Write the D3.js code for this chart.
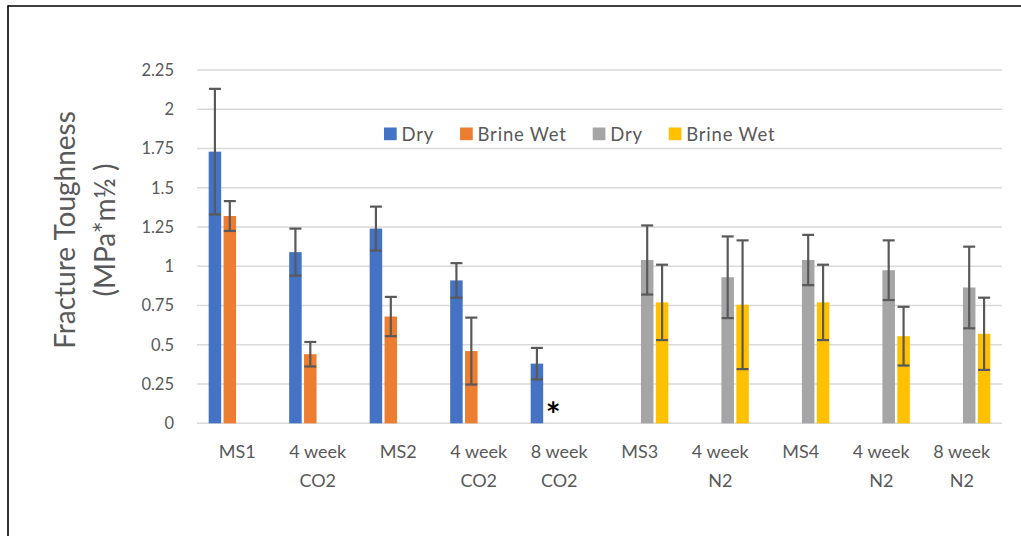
<!DOCTYPE html>
<html><head><meta charset="utf-8">
<script src="https://cdn.jsdelivr.net/npm/d3@7"></script>
<style>body{margin:0;background:#fff}svg{display:block}text{font-family:Lato,"Open Sans",sans-serif}</style>
</head><body><svg id="c" width="1021" height="536"></svg>
<script>
const categories = ["MS1","4 week|CO2","MS2","4 week|CO2","8 week|CO2","MS3","4 week|N2","MS4","4 week|N2","8 week|N2"];
const seriesNames = ["Dry","Brine Wet","Dry","Brine Wet"];
const seriesColors = ["#4472C4","#ED7D31","#A5A5A5","#FFC000"];
const dryCO2 =      [1.73, 1.09, 1.24, 0.91, 0.38, null, null, null, null, null];
const dryCO2Err =   [0.40, 0.15, 0.14, 0.11, 0.10, null, null, null, null, null];
const wetCO2 =      [1.32, 0.44, 0.68, 0.46, null, null, null, null, null, null];
const wetCO2Err =   [0.095,0.078,0.125,0.213,null, null, null, null, null, null];
const dryN2 =       [null, null, null, null, null, 1.04, 0.93, 1.04, 0.975, 0.865];
const dryN2Err =    [null, null, null, null, null, 0.22, 0.26, 0.16, 0.19, 0.26];
const wetN2 =       [null, null, null, null, null, 0.77, 0.755, 0.77, 0.555, 0.57];
const wetN2Err =    [null, null, null, null, null, 0.24, 0.41, 0.24, 0.187, 0.23];
const yTicks = [0,0.25,0.5,0.75,1,1.25,1.5,1.75,2,2.25];
const yTitle = ["Fracture Toughness","(MPa*m½ )"];
const noDataMark = {category: 4, series: 1, text: "*"};

const values = [dryCO2, wetCO2, dryN2, wetN2];
const errors = [dryCO2Err, wetCO2Err, dryN2Err, wetN2Err];

const svg = d3.select("#c");
const pLeft = 197, pRight = 1002, pTop = 70, pBottom = 423.3;
const y = d3.scaleLinear().domain([0,2.25]).range([pBottom, pTop]);
const x0 = d3.scaleBand().domain(d3.range(categories.length)).range([pLeft,pRight]).paddingInner(0.29).paddingOuter(0.145);
const x1 = d3.scaleBand().domain(d3.range(4)).range([0,x0.bandwidth()]).paddingInner(0.16);

// frame
svg.append("line").attr("x1",8).attr("x2",1021).attr("y1",6).attr("y2",6).attr("stroke","#000").attr("stroke-width",1.6);
svg.append("line").attr("x1",8).attr("x2",8).attr("y1",5.2).attr("y2",536).attr("stroke","#000").attr("stroke-width",1.6);

// gridlines
svg.append("g").selectAll("line").data(yTicks).join("line")
  .attr("x1",pLeft).attr("x2",pRight).attr("y1",d=>y(d)).attr("y2",d=>y(d))
  .attr("stroke","#d9d9d9").attr("stroke-width",1.5);

// y tick labels
svg.append("g").selectAll("text").data(yTicks).join("text")
  .attr("x",174).attr("y",d=>y(d)).attr("dy","0.36em").attr("text-anchor","end")
  .attr("fill","#595959").style("font-size","16.5px").text(d=>d);

// y title
yTitle.forEach((t,i)=>{
  svg.append("text").attr("transform",`translate(${75+i*40},230) rotate(-90)`)
    .attr("text-anchor","middle").attr("fill","#595959").style("font-size","28px").text(t);
});

// bars
const flat = [];
values.forEach((arr,s)=>arr.forEach((v,c)=>{ if(v!=null) flat.push({s,c,v,e:errors[s][c]}); }));
svg.append("g").selectAll("rect").data(flat).join("rect")
  .attr("x",d=>x0(d.c)+x1(d.s)).attr("width",x1.bandwidth())
  .attr("y",d=>y(d.v)).attr("height",d=>y(0)-y(d.v))
  .attr("fill",d=>seriesColors[d.s]);

// error bars
const eg = svg.append("g").attr("stroke","#595959").attr("stroke-width",2.2);
flat.forEach(d=>{
  const cx = x0(d.c)+x1(d.s)+x1.bandwidth()/2;
  eg.append("line").attr("x1",cx).attr("x2",cx).attr("y1",y(d.v+d.e)).attr("y2",y(d.v-d.e));
  [d.v+d.e, d.v-d.e].forEach(v=>eg.append("line").attr("x1",cx-6).attr("x2",cx+6).attr("y1",y(v)).attr("y2",y(v)));
});

// asterisk
svg.append("text").attr("x",x0(noDataMark.category)+x1(noDataMark.series)+x1.bandwidth()/2+1.5)
  .attr("y",427).attr("text-anchor","middle").attr("fill","#000")
  .style("font-size","35px").style("font-weight","bold").text(noDataMark.text);

// x labels
const xl = svg.append("g");
categories.forEach((c,i)=>{
  const cx = x0(i)+x0.bandwidth()/2;
  c.split("|").forEach((line,j)=>{
    xl.append("text").attr("x",cx).attr("y",458+j*29).attr("text-anchor","middle")
      .attr("fill","#595959").style("font-size","18px").text(line);
  });
});

// legend
let lx = 384;
const lg = svg.append("g");
seriesNames.forEach((n,i)=>{
  lg.append("rect").attr("x",lx).attr("y",127.5).attr("width",12.7).attr("height",12.7).attr("fill",seriesColors[i]);
  const t = lg.append("text").attr("x",lx+17.5).attr("y",140.5).attr("fill","#595959")
    .style("font-size","18.5px").style("letter-spacing","0.8px").text(n);
  lx += 17.5 + t.node().getComputedTextLength() + 26;
});
</script></body></html>
